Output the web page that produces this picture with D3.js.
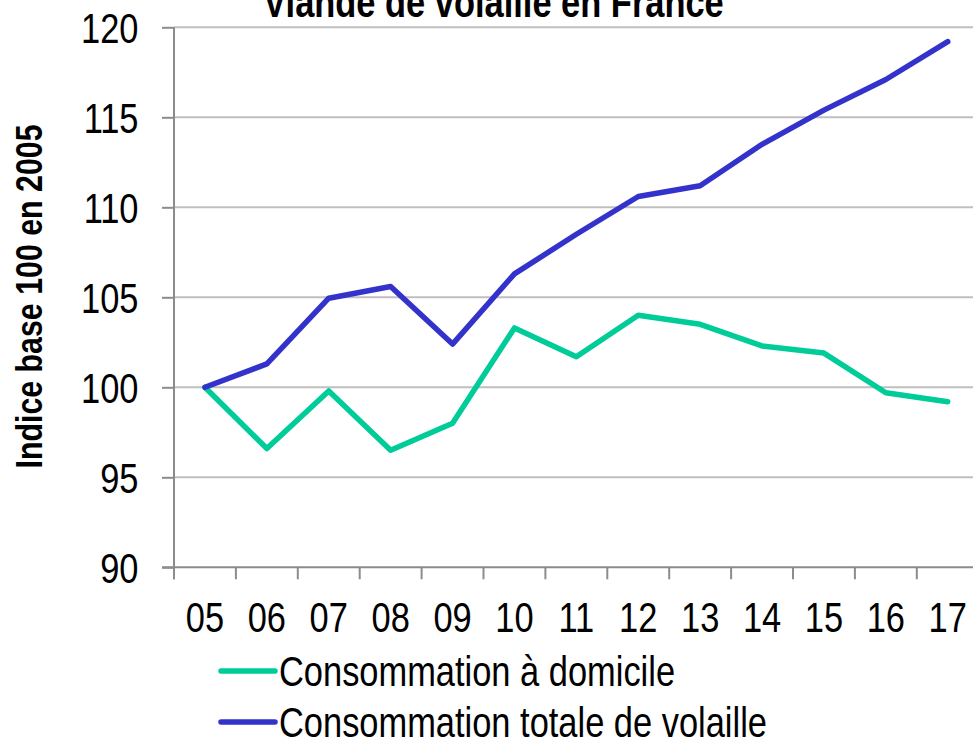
<!DOCTYPE html>
<html>
<head>
<meta charset="utf-8">
<script src="https://cdn.jsdelivr.net/npm/d3@7"></script>
<style>
  html, body { margin: 0; padding: 0; background: #fff; }
  svg { display: block; }
  text { font-family: "Liberation Sans", Arial, sans-serif; fill: #000; }
</style>
</head>
<body>
<svg id="chart" width="973" height="741"></svg>
<script>
const title = "Viande de volaille en France";
const yAxisTitle = "Indice base 100 en 2005";
const categories = ["05","06","07","08","09","10","11","12","13","14","15","16","17"];
const seriesNames = ["Consommation à domicile", "Consommation totale de volaille"];
const seriesColors = ["#00CC99", "#3333CC"];
const domicile = [100, 96.6, 99.8, 96.5, 98.0, 103.3, 101.7, 104.0, 103.5, 102.3, 101.9, 99.7, 99.2];
const totale   = [100, 101.3, 104.95, 105.6, 102.4, 106.3, 108.5, 110.6, 111.2, 113.5, 115.4, 117.1, 119.2];
const yTicks = [90, 95, 100, 105, 110, 115, 120];

const NARROW = 0.82; // condensed type, as in the reference
const svg = d3.select("#chart");
const plotLeft = 174, plotTop = 27.3, plotBottom = 567.3;
const bandW = 61.9;
const plotRight = plotLeft + bandW * categories.length;

const x = d3.scaleBand().domain(categories).range([plotLeft, plotRight]).paddingInner(0).paddingOuter(0);
const y = d3.scaleLinear().domain([90, 120]).range([plotBottom, plotTop]);

// gridlines
svg.append("g").selectAll("line").data(yTicks.filter(v => v !== 90)).join("line")
  .attr("x1", plotLeft).attr("x2", 973)
  .attr("y1", d => y(d)).attr("y2", d => y(d))
  .attr("stroke", "#BFBFBF").attr("stroke-width", 2);

// y axis
const yAxis = svg.append("g").attr("transform", `translate(${plotLeft},0)`)
  .call(d3.axisLeft(y).tickValues(yTicks).tickSize(12).tickPadding(23.5).tickFormat(d3.format("d")));
yAxis.select(".domain").attr("stroke", "#8C8C8C").attr("stroke-width", 2)
  .attr("d", `M0,${plotTop}V${plotBottom + 12}`);
yAxis.selectAll(".tick line").attr("stroke", "#8C8C8C").attr("stroke-width", 2);
yAxis.selectAll(".tick text").attr("font-size", 42).attr("dy", "0.36em")
  .attr("x", -35.5 / NARROW).attr("transform", `scale(${NARROW},1)`);

// x axis
const xAxis = svg.append("g").attr("transform", `translate(0,${plotBottom})`)
  .call(d3.axisBottom(x).tickSize(0).tickPadding(35));
xAxis.select(".domain").attr("stroke", "#8C8C8C").attr("stroke-width", 2)
  .attr("d", `M${plotLeft - 12},0H973`);
xAxis.selectAll(".tick text").attr("font-size", 42).attr("transform", `scale(${NARROW},1)`);
// tick marks at band boundaries
svg.append("g").selectAll("line").data(categories).join("line")
  .attr("x1", d => x(d)).attr("x2", d => x(d))
  .attr("y1", plotBottom).attr("y2", plotBottom + 12)
  .attr("stroke", "#8C8C8C").attr("stroke-width", 2);

// lines
const cx = d => x(d) + x.bandwidth() / 2;
const line = d3.line().x((d, i) => cx(categories[i])).y(d => y(d));
[domicile, totale].forEach((s, k) => {
  svg.append("path").datum(s)
    .attr("d", line)
    .attr("fill", "none")
    .attr("stroke", seriesColors[k])
    .attr("stroke-width", 5.5)
    .attr("stroke-linejoin", "round")
    .attr("stroke-linecap", "round");
});

// title
svg.append("text").attr("transform", `translate(493.5,17) scale(${NARROW},1)`).attr("text-anchor", "middle")
  .attr("font-size", 42).attr("font-weight", "bold").text(title);

// y axis title
svg.append("text").attr("transform", `translate(42,296.5) rotate(-90) scale(${NARROW},1)`)
  .attr("text-anchor", "middle").attr("font-size", 37).attr("font-weight", "bold").text(yAxisTitle);

// legend
const legY = [671, 722];
seriesNames.forEach((n, k) => {
  svg.append("line").attr("x1", 221).attr("x2", 275).attr("y1", legY[k]).attr("y2", legY[k])
    .attr("stroke", seriesColors[k]).attr("stroke-width", 5.5).attr("stroke-linecap", "round");
  svg.append("text").attr("transform", `translate(279,${legY[k] + 14.5}) scale(${NARROW},1)`)
    .attr("font-size", 42).text(n);
});
</script>
</body>
</html>
